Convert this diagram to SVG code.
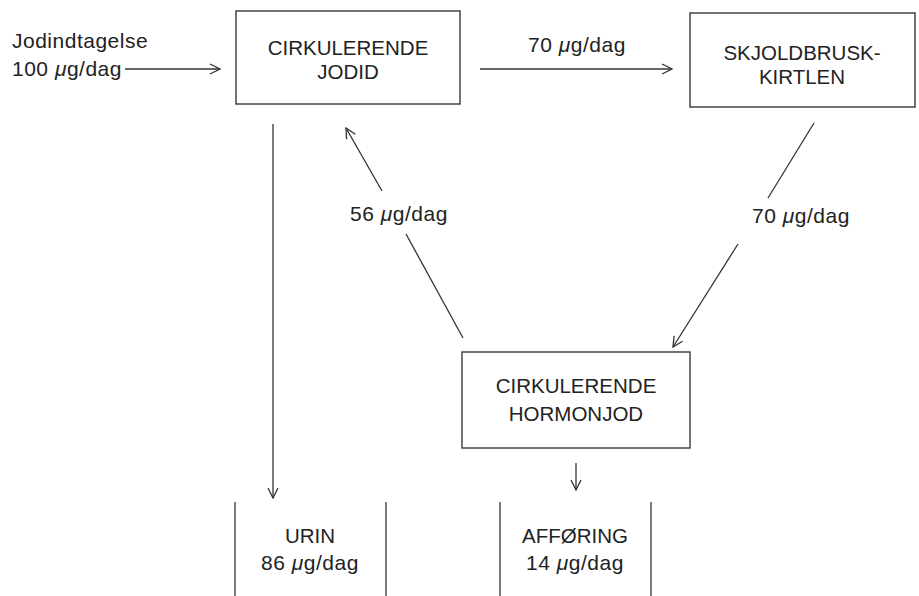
<svg xmlns="http://www.w3.org/2000/svg" width="919" height="596" viewBox="0 0 919 596">
<defs>
<style>
text{font-family:"Liberation Sans",Arial,sans-serif;font-size:20.5px;fill:#222}
.c{text-anchor:middle}
.lc{font-size:21px;letter-spacing:0.5px}
.box{fill:none;stroke:#444;stroke-width:1.5}
.ln{fill:none;stroke:#333;stroke-width:1.3}
.mu{font-style:italic}
</style>
<marker id="ah" viewBox="0 0 12 12" refX="11" refY="6" markerWidth="12" markerHeight="12" markerUnits="userSpaceOnUse" orient="auto">
<path d="M1,1 L11,6 L1,11" fill="none" stroke="#333" stroke-width="1.3"/>
</marker>
</defs>
<rect width="919" height="596" fill="#fff"/>
<g id="intake">
<text class="lc" x="12" y="48">Jodindtagelse</text>
<text class="lc" x="12" y="76">100 <tspan class="mu">μ</tspan>g/dag</text>
</g>
<g id="jodid">
<rect class="box" x="236" y="11" width="224" height="93"/>
<text class="c" x="348" y="55">CIRKULERENDE</text>
<text class="c" x="348" y="79">JODID</text>
</g>
<g id="skjold">
<rect class="box" x="690" y="13" width="225" height="94"/>
<text class="c" x="802" y="60">SKJOLDBRUSK-</text>
<text class="c" x="802" y="84">KIRTLEN</text>
</g>
<g id="hormon">
<rect class="box" x="462" y="352" width="228" height="96"/>
<text class="c" x="576" y="393">CIRKULERENDE</text>
<text class="c" x="576" y="421">HORMONJOD</text>
</g>
<g id="urin">
<line class="ln" x1="235" y1="502" x2="235" y2="596"/>
<line class="ln" x1="386" y1="502" x2="386" y2="596"/>
<text class="c" x="310" y="543">URIN</text>
<text class="c lc" x="310" y="570">86 <tspan class="mu">μ</tspan>g/dag</text>
</g>
<g id="afforing">
<line class="ln" x1="500" y1="502" x2="500" y2="596"/>
<line class="ln" x1="651" y1="502" x2="651" y2="596"/>
<text class="c" x="575" y="543">AFFØRING</text>
<text class="c lc" x="575" y="570">14 <tspan class="mu">μ</tspan>g/dag</text>
</g>
<g id="connectors">
<line class="ln" x1="125" y1="69" x2="220" y2="69" marker-end="url(#ah)"/>
<line class="ln" x1="480" y1="69" x2="672" y2="69" marker-end="url(#ah)"/>
<text class="c lc" x="577" y="52">70 <tspan class="mu">μ</tspan>g/dag</text>
<line class="ln" x1="273" y1="124" x2="273" y2="498" marker-end="url(#ah)"/>
<line class="ln" x1="382" y1="191" x2="346" y2="128" marker-end="url(#ah)"/>
<line class="ln" x1="406" y1="234" x2="463" y2="338"/>
<text class="c lc" x="399" y="221">56 <tspan class="mu">μ</tspan>g/dag</text>
<line class="ln" x1="814" y1="123" x2="768" y2="198"/>
<line class="ln" x1="738" y1="244" x2="673" y2="347" marker-end="url(#ah)"/>
<text class="c lc" x="801" y="223">70 <tspan class="mu">μ</tspan>g/dag</text>
<line class="ln" x1="576" y1="463" x2="576" y2="490" marker-end="url(#ah)"/>
</g>
</svg>
